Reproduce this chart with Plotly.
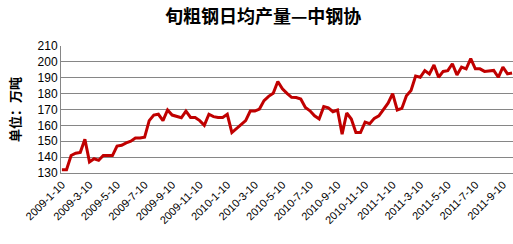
import plotly.graph_objects as go

# categories: dekadal dates 2009-1-10 .. 2011-9-30
dates = [f"{y}-{m}-{d}" for y in (2009, 2010, 2011) for m in range(1, 13) for d in (10, 20, 30)
         if not (y == 2011 and m > 9)]

output = [132, 132, 141, 142.5, 143, 151.3, 137, 139, 138, 141, 141, 141,
          147, 147.5, 149, 150, 152, 152, 152.5, 163, 166.5, 167, 163, 169.7,
          166.5, 165.7, 164.8, 169, 165, 165, 163, 160, 167, 165.5, 165, 165,
          167, 155.5, 158, 160, 163, 169, 169, 170.3, 175.6, 178.3, 180.2, 187.6,
          183, 180.2, 177.7, 177.5, 176.6, 171.3, 169.2, 166, 164, 171.8, 171, 168.6,
          169.7, 154.5, 167.8, 164, 155.5, 155.5, 162, 161, 164.4, 166, 170, 174,
          180, 169.7, 170.7, 178.7, 182, 191, 190.3, 194.5, 192.4, 198, 190.3, 194,
          194.5, 198.8, 191.8, 196.7, 195.6, 202, 195.6, 195.6, 194, 194.2, 194.6, 190.3,
          196.7, 192.4, 193]

tick_labels = [dates[i] for i in range(0, len(dates), 6)]
y_ticks = list(range(130, 211, 10))

title_text = "旬粗钢日均产量—中钢协"
y_title = "单位：万吨"

fig = go.Figure()
fig.add_trace(go.Scatter(x=list(range(len(dates))), y=output, mode="lines",
                         line=dict(color="#C00000", width=3), showlegend=False,
                         hoverinfo="skip"))

fig.update_layout(
    width=513, height=244,
    margin=dict(l=61, r=0, t=46, b=71),
    paper_bgcolor="white", plot_bgcolor="white",
    title=dict(text=title_text, x=0.513, xanchor="center", y=0.93, yanchor="middle",
               font=dict(family="Noto Sans CJK SC", size=18, color="black", weight="bold")),
)
fig.update_xaxes(
    range=[-0.2, len(dates) - 1 + 0.2],
    tickmode="array",
    tickvals=list(range(0, len(dates), 6)),
    ticktext=tick_labels,
    tickangle=-45,
    tickfont=dict(family="Liberation Sans", size=11, color="black"),
    showgrid=False, showline=True, linecolor="#868686", linewidth=1,
    ticks="", zeroline=False,
)
fig.update_yaxes(
    range=[130, 210],
    tickvals=y_ticks,
    tickfont=dict(family="Liberation Sans", size=12, color="black"),
    showgrid=True, gridcolor="#868686", gridwidth=1,
    showline=True, linecolor="#868686", linewidth=1,
    ticks="", zeroline=False,
    title=dict(text=y_title, standoff=14,
               font=dict(family="Noto Sans CJK SC", size=13, color="black", weight="bold")),
)

fig.write_html("out.html")
